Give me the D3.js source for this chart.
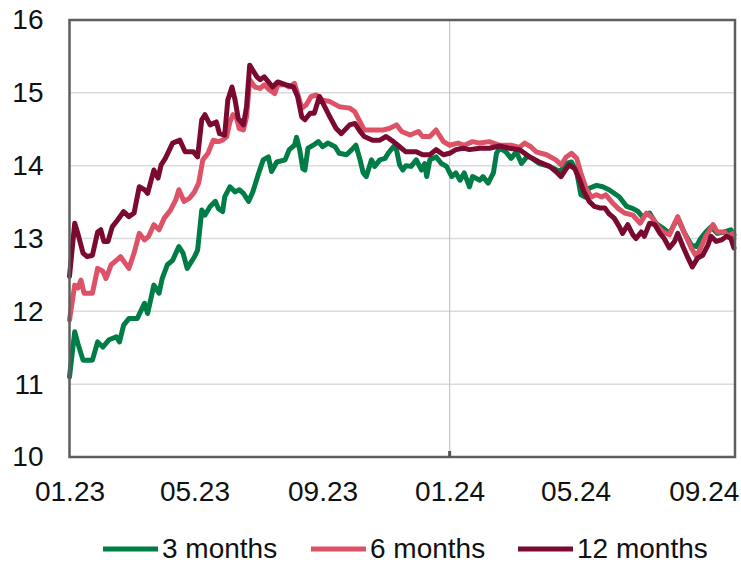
<!DOCTYPE html>
<html><head><meta charset="utf-8">
<script src="https://cdn.jsdelivr.net/npm/d3@7"></script>
<style>
html,body{margin:0;padding:0;background:#fff;}
svg{display:block;font-family:"Liberation Sans",Arial,sans-serif;}
</style></head>
<body><svg id="c" width="741" height="564"></svg>
<script>
// Dates are given as days since 2023-01-01
const seriesNames = ["3 months", "6 months", "12 months"];
const seriesColors = ["#007C46", "#DE5268", "#7A0A30"];
const xTickLabels = ["2023-01-01","2023-05-01","2023-09-01","2024-01-01","2024-05-01","2024-09-01"];
const yTicks = [10, 11, 12, 13, 14, 15, 16];

const m3 = [[0,11.10],[5,11.72],[8,11.56],[13,11.33],[22,11.33],[27,11.58],[32,11.51],[38,11.61],[45,11.65],[48,11.58],[52,11.81],[57,11.90],[65,11.90],[72,12.11],[75,11.97],[81,12.36],[86,12.25],[89,12.45],[94,12.64],[99,12.70],[105,12.89],[109,12.80],[113,12.59],[120,12.75],[123,12.84],[127,13.39],[130,13.32],[135,13.44],[140,13.51],[143,13.41],[147,13.37],[149,13.57],[154,13.71],[159,13.64],[163,13.67],[167,13.62],[172,13.51],[176,13.64],[181,13.87],[186,14.08],[191,14.12],[194,13.92],[199,14.05],[207,14.08],[211,14.22],[216,14.28],[218,14.39],[221,14.22],[224,13.96],[226,13.94],[229,14.24],[234,14.28],[239,14.33],[243,14.26],[248,14.31],[255,14.26],[259,14.17],[266,14.15],[271,14.22],[275,14.28],[279,14.08],[282,13.90],[285,13.85],[290,14.08],[293,13.99],[298,14.08],[303,14.10],[306,14.17],[311,14.26],[314,14.22],[317,14.01],[320,13.94],[323,14.00],[328,13.99],[333,14.08],[338,13.94],[341,14.03],[343,13.85],[346,14.08],[352,14.12],[357,14.03],[362,13.99],[367,13.85],[371,13.90],[375,13.80],[379,13.90],[384,13.71],[387,13.85],[394,13.80],[397,13.85],[402,13.76],[407,13.90],[410,14.17],[413,14.24],[419,14.19],[424,14.10],[429,14.19],[434,14.03],[439,14.12],[442,14.12],[451,14.03],[461,13.99],[471,13.92],[477,14.03],[482,14.05],[487,13.92],[491,13.60],[495,13.57],[499,13.69],[506,13.73],[512,13.71],[518,13.67],[525,13.60],[528,13.57],[535,13.44],[541,13.41],[546,13.37],[550,13.30],[557,13.35],[563,13.21],[570,13.14],[576,13.07],[584,13.28],[590,13.09],[597,12.91],[602,12.89],[606,13.00],[611,13.09],[616,13.16],[622,13.07],[629,13.09],[635,13.12],[638,13.05]];

const m6 = [[0,11.88],[5,12.36],[8,12.32],[11,12.43],[14,12.25],[22,12.25],[27,12.59],[32,12.55],[35,12.45],[40,12.64],[45,12.70],[49,12.75],[57,12.59],[62,12.80],[67,13.07],[72,12.98],[76,13.03],[81,13.19],[86,13.12],[91,13.28],[97,13.39],[102,13.53],[105,13.67],[110,13.51],[115,13.55],[120,13.64],[124,13.76],[128,14.08],[133,14.17],[138,14.35],[143,14.33],[147,14.35],[151,14.40],[154,14.60],[157,14.70],[160,14.67],[163,14.51],[167,14.49],[170,14.67],[173,15.18],[178,15.08],[183,15.06],[187,15.11],[192,15.04],[197,14.99],[200,15.11],[207,15.11],[211,15.08],[216,15.13],[219,14.99],[223,14.79],[227,14.83],[232,14.95],[237,14.97],[243,14.90],[250,14.88],[259,14.81],[269,14.79],[274,14.74],[279,14.60],[283,14.49],[291,14.49],[301,14.49],[307,14.51],[314,14.56],[319,14.47],[327,14.42],[335,14.47],[339,14.40],[346,14.40],[352,14.49],[359,14.33],[365,14.28],[373,14.31],[379,14.28],[387,14.33],[394,14.31],[403,14.33],[413,14.28],[424,14.28],[432,14.25],[437,14.31],[443,14.26],[448,14.19],[458,14.15],[467,14.08],[472,14.01],[477,14.12],[482,14.17],[487,14.10],[491,13.90],[496,13.69],[501,13.57],[506,13.60],[511,13.57],[515,13.60],[522,13.48],[527,13.41],[533,13.35],[541,13.32],[548,13.21],[554,13.35],[560,13.28],[565,13.16],[570,13.09],[576,13.05],[584,13.30],[590,13.09],[597,12.87],[602,12.75],[606,12.87],[611,13.03],[618,13.19],[622,13.09],[629,13.09],[632,13.03],[637,13.07],[638,13.00]];

const m12 = [[0,12.48],[5,13.21],[8,13.07],[13,12.80],[17,12.75],[22,12.77],[27,13.09],[30,13.12],[33,12.96],[37,12.96],[41,13.16],[46,13.25],[52,13.37],[57,13.30],[62,13.35],[67,13.71],[72,13.67],[75,13.62],[81,13.94],[85,13.83],[88,14.01],[92,14.10],[99,14.31],[106,14.35],[111,14.19],[119,14.19],[123,14.12],[127,14.63],[130,14.70],[135,14.56],[141,14.60],[144,14.44],[149,14.42],[152,14.90],[156,15.08],[159,14.90],[162,14.65],[167,14.56],[170,14.81],[173,15.38],[176,15.31],[180,15.22],[183,15.18],[187,15.22],[191,15.15],[195,15.08],[200,15.15],[208,15.11],[215,15.08],[219,14.95],[223,14.67],[226,14.63],[231,14.72],[235,14.72],[240,14.95],[245,14.81],[250,14.67],[256,14.51],[261,14.44],[269,14.56],[274,14.58],[279,14.47],[283,14.40],[291,14.35],[298,14.35],[304,14.40],[311,14.33],[317,14.26],[323,14.19],[333,14.19],[339,14.15],[346,14.15],[352,14.22],[359,14.15],[365,14.17],[371,14.22],[378,14.24],[384,14.22],[394,14.24],[403,14.24],[413,14.27],[422,14.24],[432,14.22],[442,14.12],[451,14.05],[461,13.99],[467,13.92],[472,13.85],[477,13.96],[480,14.01],[485,13.96],[490,13.80],[494,13.64],[499,13.51],[504,13.44],[509,13.42],[514,13.42],[518,13.34],[523,13.28],[528,13.16],[531,13.07],[536,13.19],[541,13.05],[544,13.00],[549,13.09],[552,13.03],[557,13.21],[562,13.19],[567,13.07],[571,13.00],[576,12.87],[581,12.96],[584,13.07],[589,12.89],[594,12.73],[598,12.61],[603,12.73],[608,12.77],[613,12.91],[616,13.03],[621,12.96],[626,12.98],[631,13.03],[635,13.00],[638,12.87]];

const seriesData = [m3, m6, m12];

const svg = d3.select("#c");
const pL = 69.5, pR = 735, pT = 20, pB = 457;
const t0 = new Date(Date.UTC(2023,0,1));
const toDate = d => d3.utcDay.offset(t0, d);

const x = d3.scaleUtc().domain([t0, new Date(Date.UTC(2024,9,1))]).range([pL, pR]);
const y = d3.scaleLinear().domain([10, 16]).range([pB, pT]);

// horizontal gridlines
svg.append("g").selectAll("line").data(yTicks.filter(v => v > 10 && v < 16)).join("line")
  .attr("x1", pL).attr("x2", pR)
  .attr("y1", d => y(d)).attr("y2", d => y(d))
  .attr("stroke", "#D9DCDE").attr("stroke-width", 1.5);

// vertical separator at 01.24
const xParse = d3.utcParse("%Y-%m-%d");
const sep = xParse("2024-01-01");
svg.append("line").attr("x1", x(sep)).attr("x2", x(sep)).attr("y1", pT).attr("y2", pB)
  .attr("stroke", "#C4C8C8").attr("stroke-width", 1.2);

// lines
const line = d3.line().x(d => x(toDate(d[0]))).y(d => y(d[1])).curve(d3.curveLinear);
svg.append("g").selectAll("path").data(seriesData).join("path")
  .attr("d", line).attr("fill", "none")
  .attr("stroke", (d, i) => seriesColors[i]).attr("stroke-width", 5)
  .attr("stroke-linejoin", "round").attr("stroke-linecap", "round");

// frame
svg.append("rect").attr("x", pL).attr("y", pT).attr("width", pR - pL).attr("height", pB - pT)
  .attr("fill", "none").attr("stroke", "#5E5E5E").attr("stroke-width", 2.5);
// small tick at 01.24
svg.append("line").attr("x1", x(sep)).attr("x2", x(sep)).attr("y1", pB).attr("y2", pB - 6)
  .attr("stroke", "#555").attr("stroke-width", 3);

// y axis labels
const yAxis = d3.axisLeft(y).tickValues(yTicks).tickSize(0).tickPadding(26).tickFormat(d3.format("d"));
const gy = svg.append("g").attr("transform", `translate(${pL},0)`).call(yAxis);
gy.select(".domain").remove();
gy.selectAll("text").attr("font-size", 28).attr("fill", "#111").attr("font-family", "Liberation Sans, Arial, sans-serif");

// x axis labels
const xAxis = d3.axisBottom(x).tickValues(xTickLabels.map(xParse)).tickSize(0).tickPadding(24).tickFormat(d3.utcFormat("%m.%y"));
const gx = svg.append("g").attr("transform", `translate(0,${pB})`).call(xAxis);
gx.select(".domain").remove();
gx.selectAll("text").attr("font-size", 28).attr("fill", "#111").attr("font-family", "Liberation Sans, Arial, sans-serif");

// legend
const legendX = [103, 311, 518];
const lg = svg.append("g").selectAll("g").data(seriesNames).join("g")
  .attr("transform", (d, i) => `translate(${legendX[i]},549)`);
lg.append("line").attr("x1", 0).attr("x2", 55).attr("y1", 0).attr("y2", 0)
  .attr("stroke", (d, i) => seriesColors[i]).attr("stroke-width", 5);
lg.append("text").attr("x", 59).attr("y", 8.5).text(d => d)
  .attr("font-size", 28).attr("fill", "#111");
</script></body></html>
